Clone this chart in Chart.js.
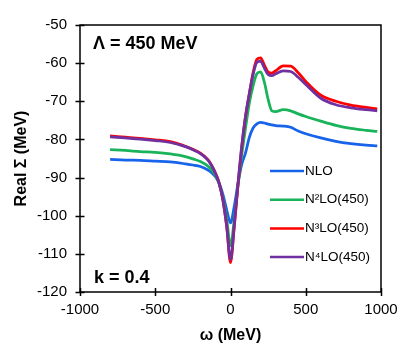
<!DOCTYPE html>
<html>
<head>
<meta charset="utf-8">
<script src="https://cdn.jsdelivr.net/npm/chart.js@4.4.1/dist/chart.umd.min.js"></script>
<style>
  html, body { margin: 0; padding: 0; background: #fff; }
  #wrap { width: 409px; height: 356px; }
</style>
</head>
<body>
<div id="wrap"><canvas id="sigma" width="409" height="356"></canvas></div>
<script>
"use strict";
// omega grid (MeV) and real part of self-energy for each chiral order
var omega = [-800, -700, -600, -500, -400, -300, -250, -200, -150, -125, -100, -75, -50, -25, 0, 25, 50, 75, 100, 125, 150, 175, 200, 225, 250, 275, 300, 350, 400, 450, 500, 600, 700, 800, 900, 975];
var nlo  = [-85.2, -85.4, -85.5, -85.7, -85.9, -86.4, -86.7, -87.1, -88.0, -88.7, -89.8, -91.5, -94.5, -98.5, -101.9, -97.5, -91.5, -86.5, -83.5, -79.5, -77.0, -75.9, -75.5, -75.7, -76.0, -76.2, -76.4, -76.5, -76.8, -77.8, -78.5, -79.6, -80.5, -81.1, -81.5, -81.7];
var n2lo = [-82.7, -82.9, -83.2, -83.4, -83.8, -84.5, -85.1, -85.8, -87.0, -88.0, -89.5, -91.8, -95.5, -101.0, -107.9, -101.0, -92.0, -84.0, -77.0, -70.5, -66.0, -62.8, -62.3, -65.0, -69.5, -72.5, -72.7, -72.2, -72.5, -73.3, -74.0, -75.2, -76.3, -77.1, -77.6, -77.9];
var n3lo = [-79.1, -79.4, -79.7, -80.1, -80.6, -81.8, -82.6, -83.6, -85.3, -86.8, -88.8, -91.5, -96.0, -103.0, -112.3, -103.0, -92.0, -82.0, -74.0, -68.0, -62.5, -59.0, -58.6, -60.5, -62.3, -62.6, -62.0, -60.7, -60.8, -62.5, -64.8, -68.4, -70.0, -71.0, -71.6, -72.0];
var n4lo = [-79.3, -79.6, -79.9, -80.3, -80.8, -81.9, -82.7, -83.7, -85.4, -86.9, -88.9, -91.5, -96.0, -102.8, -111.5, -102.5, -91.5, -81.5, -73.8, -68.0, -63.0, -59.8, -59.5, -61.3, -63.0, -63.3, -62.8, -62.0, -62.2, -63.7, -65.6, -69.2, -70.9, -71.7, -72.2, -72.5];
var seriesNames = ['NLO', 'N\u00b2LO(450)', 'N\u00b3LO(450)', 'N\u2074LO(450)'];
var seriesColors = ['#1763ea', '#18b35a', '#ff0000', '#7030a0'];

var FONT = '"Liberation Sans", Arial, sans-serif';

function pts(ys) {
    return omega.map(function (w, i) { return { x: w, y: ys[i] }; });
}

// frame, crossing tick marks, in-plot labels and legend
var decor = {
    id: 'decor',
    afterDraw: function (chart) {
        var ctx = chart.ctx, a = chart.chartArea;
        var xs = chart.scales.x, ys = chart.scales.y;
        ctx.save();
        ctx.strokeStyle = '#000';
        ctx.lineWidth = 1.5;
        ctx.strokeRect(a.left, a.top, a.right - a.left, a.bottom - a.top);
        ctx.beginPath();
        ys.ticks.forEach(function (t) {
            var y = Math.round(ys.getPixelForValue(t.value)) + 0.5;
            ctx.moveTo(a.left - 4.5, y);
            ctx.lineTo(a.left + 4.5, y);
        });
        xs.ticks.forEach(function (t) {
            var x = Math.round(xs.getPixelForValue(t.value)) + 0.5;
            ctx.moveTo(x, a.bottom - 4);
            ctx.lineTo(x, a.bottom + 4);
        });
        ctx.stroke();

        ctx.fillStyle = '#000';
        ctx.textBaseline = 'middle';
        ctx.textAlign = 'left';
        ctx.font = 'bold 18px ' + FONT;
        ctx.fillText('\u039b = 450 MeV', 93, 44);
        ctx.fillText('k = 0.4', 94, 278);

        ctx.font = '13.5px ' + FONT;
        chart.data.datasets.forEach(function (ds, i) {
            var y = 171 + i * 28.7;
            ctx.strokeStyle = ds.borderColor;
            ctx.lineWidth = 2.5;
            ctx.beginPath();
            ctx.moveTo(270, y);
            ctx.lineTo(304, y);
            ctx.stroke();
            ctx.fillStyle = '#000';
            ctx.fillText(ds.label, 305, y);
        });
        ctx.restore();
    }
};

new Chart(document.getElementById('sigma'), {
    type: 'line',
    data: {
        datasets: [nlo, n2lo, n3lo, n4lo].map(function (ys, i) {
            return {
                label: seriesNames[i],
                data: pts(ys),
                borderColor: seriesColors[i],
                borderWidth: 2.75,
                pointRadius: 0,
                fill: false,
                cubicInterpolationMode: 'monotone',
                order: 3 - i
            };
        })
    },
    options: {
        responsive: false,
        animation: false,
        devicePixelRatio: 1,
        layout: { padding: { left: 0, top: 25, right: 28, bottom: 0 } },
        plugins: { legend: { display: false }, tooltip: { enabled: false } },
        scales: {
            x: {
                type: 'linear', min: -1000, max: 1000,
                afterFit: function (s) { s.height = 64; },
                grid: { display: false, drawTicks: false },
                border: { display: false },
                ticks: {
                    stepSize: 500, padding: 9, color: '#000', font: { family: FONT, size: 15 },
                    callback: function (v) { return String(v); }
                },
                title: { display: true, text: '\u03c9 (MeV)', color: '#000', padding: { top: 0, bottom: 11 }, font: { family: FONT, size: 16, weight: 'bold' } }
            },
            y: {
                min: -120, max: -50,
                afterFit: function (s) { s.width = 80; },
                grid: { display: false, drawTicks: false },
                border: { display: false },
                ticks: { stepSize: 10, padding: 13, color: '#000', font: { family: FONT, size: 15 } },
                title: { display: true, text: 'Real \u03a3 (MeV)', color: '#000', padding: { top: 12, bottom: 0 }, font: { family: FONT, size: 16, weight: 'bold' } }
            }
        }
    },
    plugins: [decor]
});
</script>
</body>
</html>
